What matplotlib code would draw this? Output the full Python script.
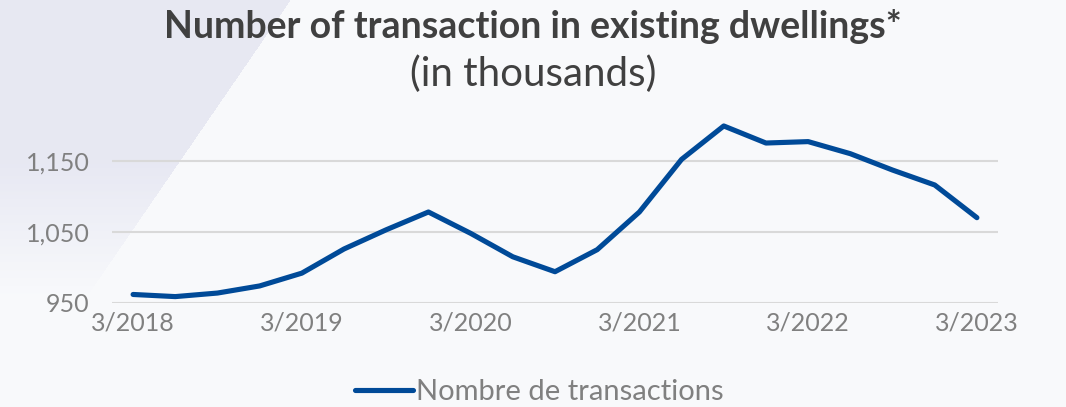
import matplotlib
matplotlib.use("Agg")
import matplotlib.pyplot as plt
import numpy as np

# quarterly transactions, thousands
quarters = ["3/2018", "6/2018", "9/2018", "12/2018",
            "3/2019", "6/2019", "9/2019", "12/2019",
            "3/2020", "6/2020", "9/2020", "12/2020",
            "3/2021", "6/2021", "9/2021", "12/2021",
            "3/2022", "6/2022", "9/2022", "12/2022",
            "3/2023"]
transactions = [962, 959, 964, 974, 992, 1026, 1053, 1078, 1048, 1015, 994,
                1025, 1078, 1152, 1199, 1175, 1177, 1160, 1137, 1116, 1070]
yticks = [950, 1050, 1150]

plt.rcParams['font.family'] = ['Lato', 'DejaVu Sans']

W, H = 1066, 407
fig = plt.figure(figsize=(W / 100, H / 100), dpi=100)
fig.patch.set_facecolor("#f9fafc")

# background: pale page with a lavender wedge top-left that fades out downward
bg = np.array([0.976, 0.980, 0.988])
lav = np.array([0.906, 0.910, 0.952])
yy, xx = np.mgrid[0:H, 0:W]
edge = 290 - yy * (180 / 262)          # slanted right edge of the wedge
inside = xx < edge
fade = np.clip((300 - yy) / 140, 0, 1)   # fades between y=160 and y=300
wt = (inside * fade)[..., None]
img = bg * (1 - wt) + lav * wt
bgax = fig.add_axes([0, 0, 1, 1], zorder=-5)
bgax.imshow(img, aspect="auto", interpolation="bilinear")
bgax.axis("off")

ax = fig.add_axes([112 / W, 1 - 303 / H, (998 - 112) / W, (303 - 121.7) / H])
ax.set_facecolor("none")
ax.set_zorder(2)

x = list(range(len(transactions)))
line, = ax.plot(x, transactions, color="#004a98", lw=3.7,
                solid_capstyle="round", solid_joinstyle="round",
                label="Nombre de transactions", zorder=3)

ax.set_xlim(-0.5, len(transactions) - 0.5)
ax.set_ylim(950, 1205)
ax.set_yticks(yticks)
ax.set_yticklabels([f"{v:,}" for v in yticks])
ax.set_xticks(x[::4])
ax.set_xticklabels(quarters[::4])
ax.grid(axis="y", color="#d9d9d9", lw=1.5, zorder=0)
ax.set_axisbelow(True)
for s in ax.spines.values():
    s.set_visible(False)
ax.tick_params(length=0, labelsize=18, labelcolor="#808080")
ax.tick_params(axis="y", pad=16)
ax.tick_params(axis="x", pad=6)

fig.text(0.5, 1 - 27 / H, "Number of transaction in existing dwellings*",
         ha="center", va="center", fontsize=27, fontweight="bold", color="#404040")
fig.text(0.5, 1 - 74 / H, "(in thousands)",
         ha="center", va="center", fontsize=29, fontweight="normal", color="#404040")

leg = fig.legend(handles=[line], loc="center", bbox_to_anchor=(0.506, 1 - 392 / H),
                 frameon=False, fontsize=21, handlelength=2.0, handletextpad=0.1)
for t in leg.get_texts():
    t.set_color("#808080")

fig.savefig("out.png", dpi=100, facecolor=fig.get_facecolor())
